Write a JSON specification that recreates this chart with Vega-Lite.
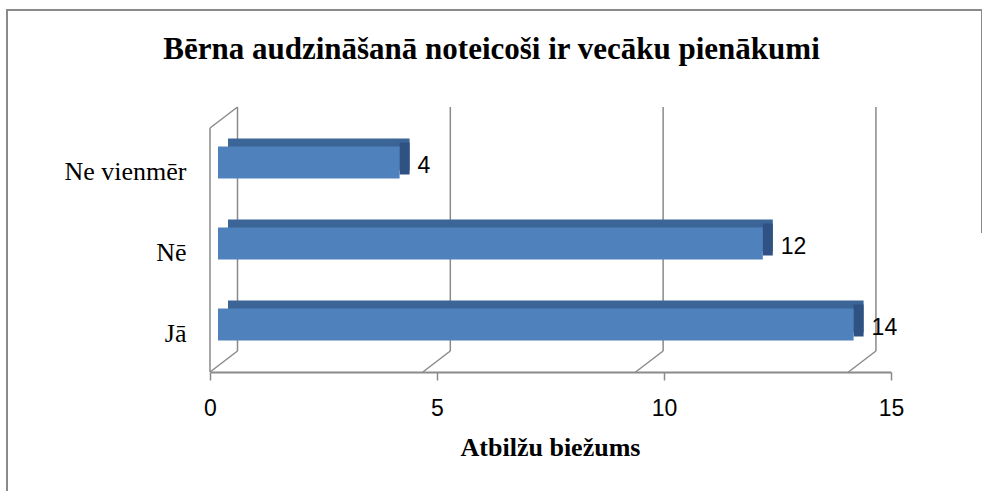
{
  "$schema": "https://vega.github.io/schema/vega-lite/v6.json",
  "width": 975,
  "height": 481,
  "autosize": {"type": "none"},
  "padding": {"left": 7, "top": 10, "right": 0, "bottom": 0},
  "background": "white",
  "title": {
    "text": "Bērna audzināšanā noteicoši ir vecāku  pienākumi",
    "font": "Liberation Serif",
    "fontSize": 31,
    "fontWeight": "bold",
    "color": "black",
    "anchor": "middle",
    "frame": "group",
    "baseline": "alphabetic",
    "offset": -80,
    "dx": -3
  },
  "config": {
    "view": {"stroke": "#8a8a8a", "strokeWidth": 2, "strokeDash": [1198, 1233, 481]}
  },
  "resolve": {"scale": {"x": "independent", "y": "independent"}},
  "layer": [
    {
      "data": {"values": [{"g": 0}, {"g": 5}, {"g": 10}, {"g": 15}]},
      "layer": [
        {
          "mark": {"type": "rule", "color": "#8a8a8a", "strokeWidth": 1.5},
          "encoding": {
            "x": {"field": "g", "type": "quantitative", "scale": {"domain": [0, 15], "range": [230.5, 911.5]}, "axis": null},
            "y": {"datum": 1, "type": "quantitative", "scale": {"domain": [0, 1], "range": [341, 97]}, "axis": null},
            "y2": {"datum": 0}
          }
        },
        {
          "mark": {"type": "rule", "color": "#8a8a8a", "strokeWidth": 1.5, "xOffset": -27.5, "yOffset": 21},
          "encoding": {
            "x": {"field": "g", "type": "quantitative"},
            "x2": {"field": "g"},
            "y": {"datum": 0, "type": "quantitative"},
            "y2": {"datum": 0}
          }
        },
        {
          "transform": [{"filter": "datum.g == 0"}],
          "mark": {"type": "rule", "color": "#8a8a8a", "strokeWidth": 1.5, "xOffset": -27.5, "x2Offset": -27.5, "yOffset": 21, "y2Offset": 21},
          "encoding": {
            "x": {"field": "g", "type": "quantitative"},
            "x2": {"field": "g"},
            "y": {"datum": 1, "type": "quantitative"},
            "y2": {"datum": 0}
          }
        },
        {
          "transform": [{"filter": "datum.g == 0"}],
          "mark": {"type": "rule", "color": "#8a8a8a", "strokeWidth": 1.5, "xOffset": -27.5, "yOffset": 21},
          "encoding": {
            "x": {"field": "g", "type": "quantitative"},
            "x2": {"field": "g"},
            "y": {"datum": 1, "type": "quantitative"},
            "y2": {"datum": 1}
          }
        }
      ]
    },
    {
      "data": {"values": [
        {"answer": "Ne vienmēr", "count": 4},
        {"answer": "Nē", "count": 12},
        {"answer": "Jā", "count": 14}
      ]},
      "encoding": {
        "y": {
          "field": "answer", "type": "nominal",
          "sort": ["Ne vienmēr", "Nē", "Jā"],
          "scale": {"range": [112, 355], "paddingInner": 0, "paddingOuter": 0},
          "axis": {
            "orient": "left",
            "title": null, "domain": false, "ticks": false, "tickSize": 0, "labelPadding": 0,
            "offset": -179, "grid": false,
            "labelFont": "Liberation Serif", "labelFontSize": 26, "labelColor": "black",
            "labelAlign": "right",
            "labelBaseline": "alphabetic", "labelOffset": 17
          }
        },
        "x": {
          "field": "count", "type": "quantitative",
          "scale": {"domain": [0, 15], "range": [203, 884]},
          "axis": {
            "title": "Atbilžu biežums", "orient": "bottom", "offset": -119,
            "values": [0, 5, 10, 15], "grid": false,
            "domainColor": "#8a8a8a", "domainWidth": 2,
            "tickColor": "#8a8a8a", "tickWidth": 1.5, "tickSize": 8,
            "labelFont": "Liberation Sans", "labelFontSize": 23, "labelColor": "black",
            "labelBaseline": "alphabetic", "labelPadding": 35, "labelFlush": false, "labelOverlap": false,
            "titleFont": "Liberation Serif", "titleFontSize": 26, "titleFontWeight": "bold", "titleColor": "black",
            "titleBaseline": "alphabetic", "titleAlign": "center", "titleX": 543, "titleY": 83
          }
        }
      },
      "layer": [
        {"mark": {"type": "bar", "size": 32, "color": "#3B6597", "xOffset": 18, "x2Offset": 18, "yOffset": -8}},
        {"mark": {"type": "bar", "size": 32, "color": "#2F5282", "xOffset": 8, "x2Offset": 18, "yOffset": -4},
         "encoding": {"x2": {"field": "count"}}},
        {"mark": {"type": "bar", "size": 32, "color": "#4F81BD", "xOffset": 8, "x2Offset": 8}},
        {"mark": {"type": "text", "align": "left", "baseline": "alphabetic", "dx": 26, "dy": 10.3,
                  "font": "Liberation Sans", "fontSize": 23, "color": "black"},
         "encoding": {"text": {"field": "count", "type": "quantitative"}}}
      ]
    }
  ]
}
